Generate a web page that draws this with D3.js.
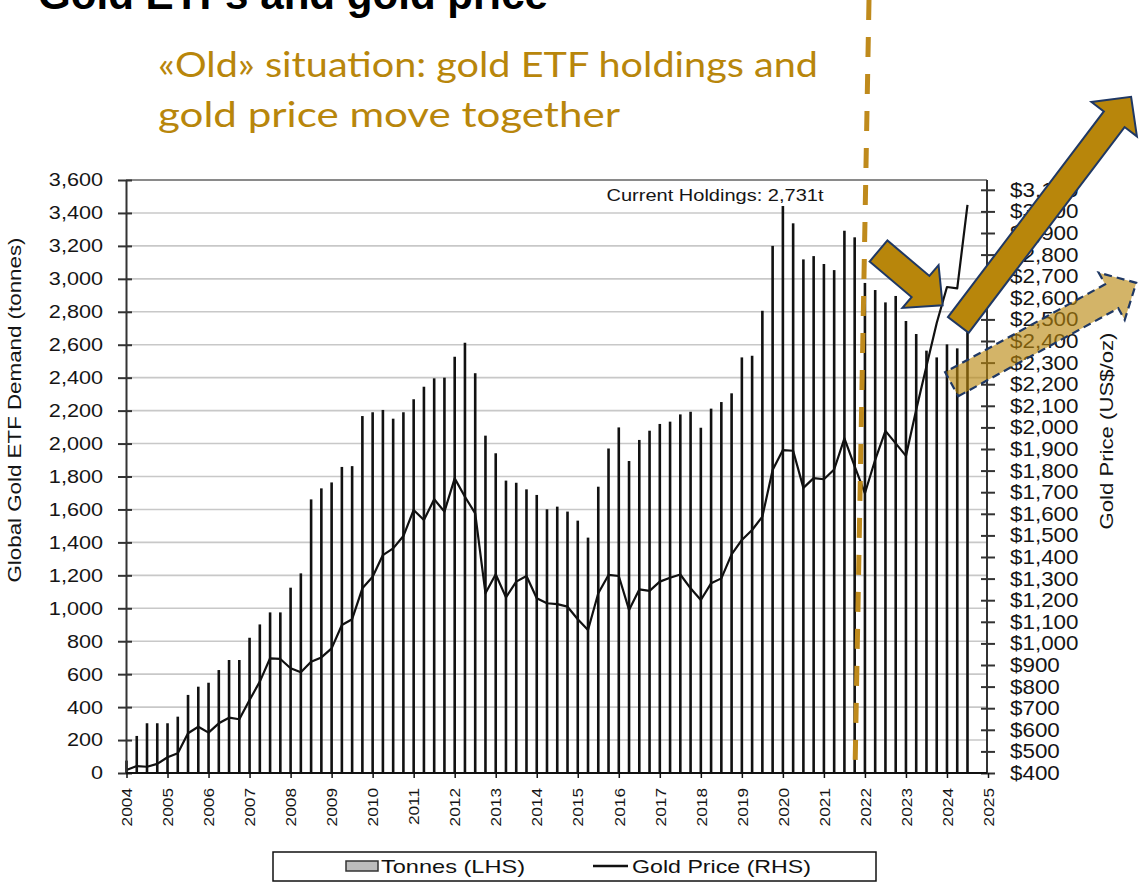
<!DOCTYPE html>
<html><head><meta charset="utf-8">
<script src="https://cdn.jsdelivr.net/npm/d3@7"></script>
<style>body{margin:0;background:#fff}svg{display:block}</style>
</head><body>
<svg id="c" width="1142" height="882"></svg>
<script>
// ---------------- data ----------------
const quarters = [
"2004Q1","2004Q2","2004Q3","2004Q4","2005Q1","2005Q2","2005Q3","2005Q4",
"2006Q1","2006Q2","2006Q3","2006Q4","2007Q1","2007Q2","2007Q3","2007Q4",
"2008Q1","2008Q2","2008Q3","2008Q4","2009Q1","2009Q2","2009Q3","2009Q4",
"2010Q1","2010Q2","2010Q3","2010Q4","2011Q1","2011Q2","2011Q3","2011Q4",
"2012Q1","2012Q2","2012Q3","2012Q4","2013Q1","2013Q2","2013Q3","2013Q4",
"2014Q1","2014Q2","2014Q3","2014Q4","2015Q1","2015Q2","2015Q3","2015Q4",
"2016Q1","2016Q2","2016Q3","2016Q4","2017Q1","2017Q2","2017Q3","2017Q4",
"2018Q1","2018Q2","2018Q3","2018Q4","2019Q1","2019Q2","2019Q3","2019Q4",
"2020Q1","2020Q2","2020Q3","2020Q4","2021Q1","2021Q2","2021Q3","2021Q4",
"2022Q1","2022Q2","2022Q3","2022Q4","2023Q1","2023Q2","2023Q3","2023Q4",
"2024Q1","2024Q2","2024Q3"];
const tonnes = [
75,225,302,302,302,342,474,524,
548,625,686,686,821,902,975,975,
1125,1212,1661,1728,1764,1858,1863,2167,
2190,2204,2151,2190,2269,2345,2396,2400,
2527,2612,2427,2048,1941,1775,1762,1722,
1688,1601,1617,1587,1532,1429,1738,1970,
2098,1894,2022,2078,2119,2133,2177,2193,
2096,2212,2252,2305,2523,2533,2806,3200,
3442,3337,3118,3138,3090,3053,3292,3252,
2975,2932,2857,2896,2744,2665,2564,2523,
2602,2578,2690];
const goldPrice = [
414,432,429,442,473,491,584,614,
587,630,656,649,738,823,931,928,
885,866,915,935,977,1085,1112,1255,
1309,1409,1440,1497,1618,1571,1667,1610,
1764,1679,1602,1232,1320,1213,1286,1312,
1209,1186,1182,1170,1112,1062,1232,1317,
1312,1155,1250,1243,1286,1304,1319,1255,
1201,1278,1301,1412,1479,1525,1587,1803,
1895,1892,1720,1765,1760,1805,1949,1820,
1695,1850,1984,1926,1868,2082,2283,2483,
2650,2644,3030];
const leftTicks = [0,200,400,600,800,1000,1200,1400,1600,1800,2000,2200,2400,2600,2800,3000,3200,3400,3600];
const rightTicks = [400,500,600,700,800,900,1000,1100,1200,1300,1400,1500,1600,1700,1800,1900,2000,2100,2200,2300,2400,2500,2600,2700,2800,2900,3000,3100];
const yearTicks = [2004,2005,2006,2007,2008,2009,2010,2011,2012,2013,2014,2015,2016,2017,2018,2019,2020,2021,2022,2023,2024,2025];
const titleText = "Gold ETFs and gold price";
const subtitleLines = ["«Old» situation: gold ETF holdings and","gold price move together"];
const currentHoldings = "Current Holdings: 2,731t";
const leftTitle = "Global Gold ETF Demand (tonnes)";
const rightTitle = "Gold Price (US$/oz)";
const legendItems = ["Tonnes (LHS)","Gold Price (RHS)"];

// ---------------- layout ----------------
const FONT = "'Liberation Sans', Arial, sans-serif";
const GOLD = "#B8860B";
const NAVY = "#1F3864";
const svg = d3.select('#c');
const qx = quarters.map(q => +q.slice(0,4) + (+q.slice(5) - 1) / 4);

const plotL = 126, plotR = 987, plotT = 180, plotB = 773;
const x = d3.scaleLinear().domain([2004, 2025]).range([126.5, 988]);
const yL = d3.scaleLinear().domain([0, 3600]).range([plotB, plotT]);
const yR = d3.scaleLinear().domain([400, 3100]).range([plotB, 189.8]);

function stretch(sel, f) {
  sel.each(function () {
    const l = this.getComputedTextLength();
    this.setAttribute('textLength', l * f);
    this.setAttribute('lengthAdjust', 'spacingAndGlyphs');
  });
}
function fitTo(sel, len) {
  sel.attr('textLength', len).attr('lengthAdjust', 'spacingAndGlyphs');
}

// gridlines
svg.append('g').selectAll('line').data(leftTicks.filter(d => d > 0 && d < 3600)).join('line')
  .attr('x1', plotL).attr('x2', plotR)
  .attr('y1', d => yL(d)).attr('y2', d => yL(d))
  .attr('stroke', '#c8c8c8').attr('stroke-width', 1.6);
// top border
svg.append('line').attr('x1', plotL).attr('x2', plotR).attr('y1', plotT).attr('y2', plotT)
  .attr('stroke', '#8a8a8a').attr('stroke-width', 2);

// bars
svg.append('g').selectAll('rect').data(tonnes).join('rect')
  .attr('x', (d, i) => x(qx[i]) - 1.3).attr('width', 2.6)
  .attr('y', d => yL(d)).attr('height', d => yL(0) - yL(d))
  .attr('fill', '#111');

// price line
svg.append('path').datum(goldPrice)
  .attr('d', d3.line().x((d, i) => x(qx[i])).y(d => yR(d)))
  .attr('fill', 'none').attr('stroke', '#111').attr('stroke-width', 2.2).attr('stroke-linejoin', 'round');

// left axis
const gL = svg.append('g').attr('transform', `translate(${plotL},0)`)
  .call(d3.axisLeft(yL).tickValues(leftTicks).tickFormat(d3.format(',')).tickSize(8).tickPadding(15).tickSizeOuter(0));
gL.select('.domain').attr('stroke', '#333').attr('stroke-width', 2);
gL.selectAll('.tick line').attr('x1', 6).attr('x2', -8).attr('stroke', '#333').attr('stroke-width', 2);
gL.selectAll('text').attr('font-family', FONT).attr('font-size', 18.5).attr('fill', '#151515');
stretch(gL.selectAll('text'), 1.17);

// right axis
const gR = svg.append('g').attr('transform', `translate(${plotR},0)`)
  .call(d3.axisRight(yR).tickValues(rightTicks).tickFormat(d => '$' + d3.format(',')(d)).tickSize(8).tickPadding(15).tickSizeOuter(0));
gR.select('.domain').remove();
svg.append('line').attr('x1', plotR).attr('x2', plotR).attr('y1', plotT).attr('y2', plotB).attr('stroke', '#333').attr('stroke-width', 2);
gR.selectAll('.tick line').attr('x1', -6).attr('x2', 8).attr('stroke', '#333').attr('stroke-width', 2);
gR.selectAll('text').attr('font-family', FONT).attr('font-size', 20).attr('fill', '#151515');
stretch(gR.selectAll('text'), 1.12);

// bottom axis
const gB = svg.append('g').attr('transform', `translate(0,${plotB})`)
  .call(d3.axisBottom(x).tickValues(yearTicks).tickFormat(d3.format('d')).tickSize(5).tickSizeOuter(0));
gB.select('.domain').attr('stroke', '#111').attr('stroke-width', 2).attr('d', `M${plotL},0H${plotR}`);
gB.selectAll('.tick line').attr('stroke', '#111').attr('stroke-width', 1.5);
gB.selectAll('text').attr('font-family', FONT).attr('font-size', 14.5).attr('fill', '#151515')
  .attr('transform', 'rotate(-90)').attr('text-anchor', 'end')
  .attr('x', -15).attr('y', 0).attr('dy', '0.36em');
stretch(gB.selectAll('text'), 1.19);

// axis titles
svg.append('text').attr('transform', 'translate(21,410) rotate(-90)')
  .attr('text-anchor', 'middle').attr('font-family', FONT).attr('font-size', 18).attr('fill', '#151515')
  .text(leftTitle).call(fitTo, 345);
svg.append('text').attr('transform', 'translate(1113,431) rotate(-90)')
  .attr('text-anchor', 'middle').attr('font-family', FONT).attr('font-size', 18).attr('fill', '#151515')
  .text(rightTitle).call(fitTo, 197);

// current holdings
svg.append('text').attr('x', 715).attr('y', 201).attr('text-anchor', 'middle')
  .attr('font-family', FONT).attr('font-size', 16.5).attr('fill', '#151515')
  .text(currentHoldings).call(fitTo, 217);

// legend
const lg = svg.append('g');
lg.append('rect').attr('x', 273).attr('y', 852).attr('width', 603).attr('height', 29)
  .attr('fill', '#fff').attr('stroke', '#111').attr('stroke-width', 1.5);
lg.append('rect').attr('x', 346).attr('y', 861).attr('width', 32).attr('height', 10)
  .attr('fill', '#bdbdbd').attr('stroke', '#333').attr('stroke-width', 1.5);
lg.append('text').attr('x', 381).attr('y', 873).attr('font-family', FONT).attr('font-size', 19).attr('fill', '#111')
  .text(legendItems[0]).call(fitTo, 144);
lg.append('line').attr('x1', 593).attr('x2', 628).attr('y1', 866).attr('y2', 866).attr('stroke', '#111').attr('stroke-width', 2.5);
lg.append('text').attr('x', 632).attr('y', 873).attr('font-family', FONT).attr('font-size', 19).attr('fill', '#111')
  .text(legendItems[1]).call(fitTo, 179);

// dashed separator
svg.append('line').attr('x1', 869).attr('y1', 0).attr('x2', 855).attr('y2', 772)
  .attr('stroke', '#BF8A1C').attr('stroke-width', 5).attr('stroke-dasharray', '20,17');

// block arrows
function arrowPts(t, b, sw, hw, hl) {
  const dx = b[0] - t[0], dy = b[1] - t[1], L = Math.hypot(dx, dy);
  const ux = dx / L, uy = dy / L, px = -uy, py = ux;
  return [[t[0] + px * sw, t[1] + py * sw], [b[0] + px * sw, b[1] + py * sw], [b[0] + px * hw, b[1] + py * hw],
          [b[0] + ux * hl, b[1] + uy * hl], [b[0] - px * hw, b[1] - py * hw], [b[0] - px * sw, b[1] - py * sw],
          [t[0] - px * sw, t[1] - py * sw]];
}
const poly = p => 'M' + p.map(q => q.join(',')).join('L') + 'Z';
svg.append('path').attr('d', poly(arrowPts([951.7, 384.2], [1111.7, 296.3], 13.7, 27, 28)))
  .attr('fill', GOLD).attr('fill-opacity', 0.62).attr('stroke', NAVY).attr('stroke-width', 2.2).attr('stroke-dasharray', '8,5');
svg.append('path').attr('d', poly(arrowPts([878.5, 251], [920.5, 286.5], 13.8, 28, 29)))
  .attr('fill', GOLD).attr('stroke', NAVY).attr('stroke-width', 2);
svg.append('path').attr('d', poly(arrowPts([958.3, 325], [1114.2, 119.2], 13, 28.5, 28)))
  .attr('fill', GOLD).attr('stroke', NAVY).attr('stroke-width', 2);

// title & subtitle
svg.append('text').attr('x', 38).attr('y', 9).attr('font-family', FONT).attr('font-weight', 'bold')
  .attr('font-size', 42).attr('fill', '#000').text(titleText).call(fitTo, 510);
svg.append('text').attr('x', 158).attr('y', 77).attr('font-family', "Lato, 'Open Sans', sans-serif")
  .attr('font-size', 35).attr('fill', GOLD).text(subtitleLines[0]).call(fitTo, 660);
svg.append('text').attr('x', 158).attr('y', 127).attr('font-family', "Lato, 'Open Sans', sans-serif")
  .attr('font-size', 35).attr('fill', GOLD).text(subtitleLines[1]).call(fitTo, 462);
</script>
</body></html>
